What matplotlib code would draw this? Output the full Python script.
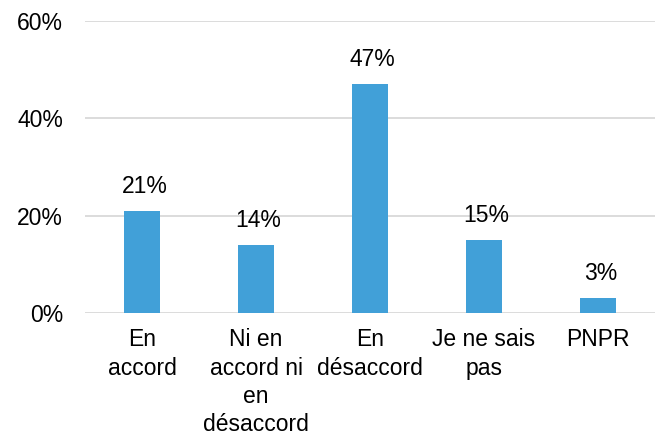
import matplotlib.pyplot as plt
from matplotlib.ticker import FuncFormatter

plt.rcParams['font.family'] = ['Liberation Sans', 'DejaVu Sans']

categories = ["En\naccord", "Ni en\naccord ni\nen\ndésaccord", "En\ndésaccord", "Je ne sais\npas", "PNPR"]
values = [21, 14, 47, 15, 3]
yticks = [0, 20, 40, 60]

fig = plt.figure(figsize=(6.55, 4.38), dpi=100)
ax = fig.add_axes([0.13, 0.2854, 0.87, 0.6673])

x = range(len(categories))
bars = ax.bar(x, values, width=0.32, color='#41A0D8', zorder=3)
for b, v in zip(bars, values):
    ax.text(b.get_x() + b.get_width() / 2 + 0.02, v + 2.7, f"{v}%", ha='center', va='bottom',
            fontsize=16.5, color='#000000')

ax.set_xlim(-0.5, len(categories) - 0.5)
ax.set_ylim(0, 60)
ax.set_yticks(yticks)
ax.yaxis.set_major_formatter(FuncFormatter(lambda v, p: f"{v:.0f}%"))
ax.set_xticks(list(x))
ax.set_xticklabels(categories, fontsize=16.5, linespacing=1.3, va='top')
ax.tick_params(axis='y', labelsize=16.5, length=0, pad=16)
ax.tick_params(axis='x', length=0, pad=11)
ax.grid(axis='y', color='#D9D9D9', linewidth=1.3, zorder=0)
for s in ax.spines.values():
    s.set_visible(False)

fig.savefig('out.png', dpi=100)
